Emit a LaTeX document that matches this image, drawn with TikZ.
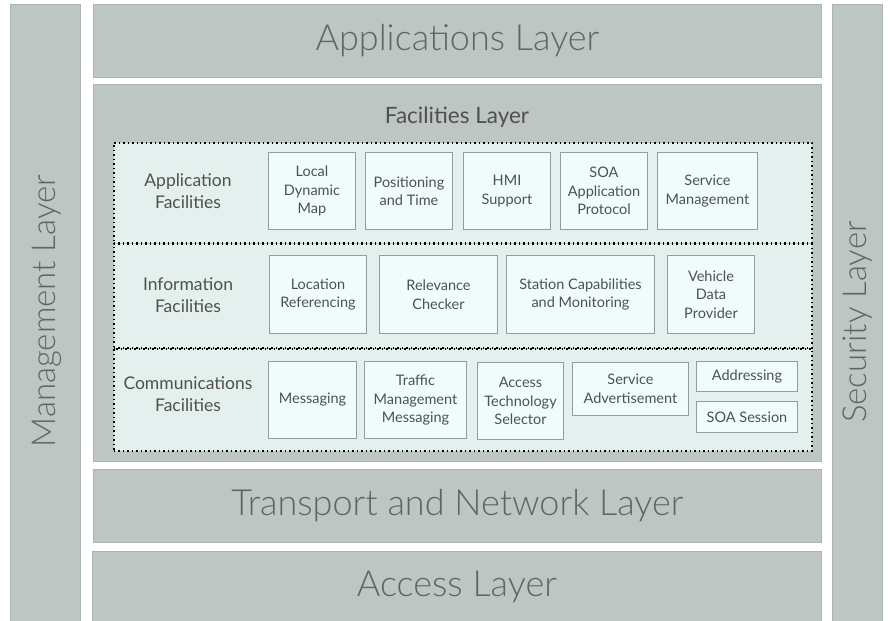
\documentclass[tikz,border=0pt]{standalone}
\usepackage{fontspec}
\setmainfont{Lato}
\newfontfamily\lightfont{Lato Light}
\definecolor{layerfill}{RGB}{190,198,196}
\definecolor{layerline}{RGB}{172,180,178}
\definecolor{panelfill}{RGB}{228,240,238}
\definecolor{boxfill}{RGB}{240,252,252}
\definecolor{boxline}{RGB}{150,156,156}
\definecolor{inktext}{RGB}{80,80,80}
\definecolor{biglabel}{RGB}{98,100,100}
\tikzset{
  layer/.style={fill=layerfill, draw=layerline, line width=0.8pt, inner sep=0pt,
    text=biglabel, font=\lightfont\fontsize{36}{41}\selectfont},
  panel/.style={fill=panelfill, draw=black, dash pattern=on 1.5pt off 3pt, line width=1.6pt, inner sep=0pt},
  fbox/.style={fill=boxfill, draw=boxline, line width=1pt, inner sep=1pt, align=center,
    text=inktext, font=\fontsize{14.5}{18.5}\selectfont},
  grouplabel/.style={align=center, text=inktext, font=\fontsize{17.5}{21.5}\selectfont},
  sidelabel/.style={rotate=90, text=biglabel, font=\lightfont\fontsize{33}{38}\selectfont},
}
\begin{document}
\begin{tikzpicture}[x=1pt, y=-1pt]
\useasboundingbox (0,0) rectangle (892,621);

% vertical cross-cutting layers
\node[layer, minimum width=70, minimum height=620, anchor=north west] (mgmt) at (10,4) {};
\node[layer, minimum width=50, minimum height=620, anchor=north west] (sec) at (832,4) {};
\node[sidelabel] (mgmtlbl) at (47,311) {Management Layer};
\node[sidelabel] (seclbl) at (858,322) {Security Layer};

% horizontal stack
\node[layer, minimum width=728, minimum height=73, anchor=north west] (app) at (93,4) {Applications Layer};
\node[layer, minimum width=728, minimum height=377, anchor=north west] (fac) at (93,84) {};
\node[text=inktext, font=\fontsize{22.5}{26}\selectfont] (faclbl) at (457,117) {Facilities Layer};
\node[layer, minimum width=728, minimum height=73, anchor=north west] (tn) at (93,469) {Transport and Network Layer};
\node[layer, minimum width=729, minimum height=72, anchor=north west] (acc) at (92,551) {Access Layer};

% facility groups
\node[panel, minimum width=698, minimum height=100, anchor=north west] (pa) at (113,142) {};
\node[panel, minimum width=698, minimum height=104, anchor=north west] (pi) at (113,243) {};
\node[panel, minimum width=698, minimum height=102, anchor=north west] (pc) at (113,348) {};

\node[grouplabel] (la) at (188,191) {Application\\Facilities};
\node[grouplabel] (li) at (188,295) {Information\\Facilities};
\node[grouplabel] (lc) at (188,394) {Communications\\Facilities};

% application facilities
\node[fbox, minimum width=87, minimum height=77, anchor=north west] (ldm) at (268,152) {Local\\Dynamic\\Map};
\node[fbox, minimum width=87, minimum height=77, anchor=north west] (pt) at (365,152) {Positioning\\and Time};
\node[fbox, minimum width=87, minimum height=77, anchor=north west] (hmi) at (463,152) {HMI\\Support};
\node[fbox, minimum width=87, minimum height=77, anchor=north west] (soa) at (560,152) {SOA\\Application\\Protocol};
\node[fbox, minimum width=100, minimum height=77, anchor=north west] (sm) at (657,152) {Service\\Management};

% information facilities
\node[fbox, minimum width=97, minimum height=78, anchor=north west] (lr) at (269,255) {Location\\Referencing};
\node[fbox, minimum width=118, minimum height=78, anchor=north west] (rc) at (379,255) {Relevance\\Checker};
\node[fbox, minimum width=148, minimum height=78, anchor=north west] (scm) at (506,255) {Station Capabilities\\and Monitoring};
\node[fbox, minimum width=87, minimum height=78, anchor=north west] (vdp) at (667,255) {Vehicle\\Data\\Provider};

% communications facilities
\node[fbox, minimum width=88, minimum height=77, anchor=north west] (msg) at (268,361) {Messaging};
\node[fbox, minimum width=102, minimum height=77, anchor=north west] (tmm) at (364,361) {Traffic\\Management\\Messaging};
\node[fbox, minimum width=86, minimum height=77, anchor=north west] (ats) at (477,362) {Access\\Technology\\Selector};
\node[fbox, minimum width=116, minimum height=53, anchor=north west] (sad) at (572,362) {Service\\Advertisement};
\node[fbox, minimum width=101, minimum height=30, anchor=north west] (addr) at (696,361) {Addressing};
\node[fbox, minimum width=101, minimum height=31, anchor=north west] (soas) at (696,401) {SOA Session};
\end{tikzpicture}
\end{document}
